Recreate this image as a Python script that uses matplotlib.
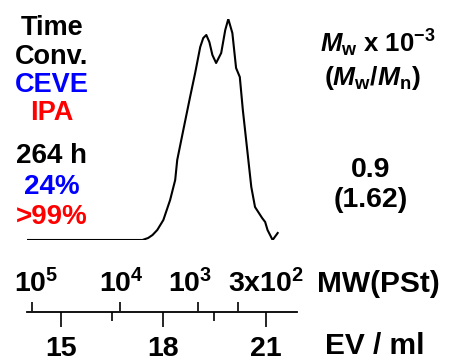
import matplotlib
matplotlib.use("Agg")
import matplotlib.pyplot as plt

plt.rcParams['font.family'] = ['Liberation Sans', 'DejaVu Sans']
plt.rcParams['font.weight'] = 'bold'
plt.rcParams['mathtext.fontset'] = 'custom'
plt.rcParams['mathtext.rm'] = 'Liberation Sans:bold'
plt.rcParams['mathtext.it'] = 'Liberation Sans:bold:italic'
plt.rcParams['mathtext.bf'] = 'Liberation Sans:bold'

# SEC trace (elution volume in ml, relative RI intensity)
ev = [14.0, 17.42, 17.59, 17.72, 17.86, 18.04, 18.24, 18.39, 18.45, 18.63, 18.83,
      18.98, 19.13, 19.22, 19.31, 19.40, 19.49, 19.60, 19.75, 19.87, 19.96, 20.08, 20.19,
      20.30, 20.39, 20.52, 20.64, 20.75, 20.96, 21.05, 21.12, 21.27, 21.42]
intensity = [0, 0, 2, 5, 10, 20, 40, 60, 80, 110, 143,
             167, 193, 202, 205, 198, 185, 177, 187, 210, 221, 207, 172,
             163, 130, 90, 53, 33, 22, 18, 10, 0, 7]

ev_ticks = [15, 18, 21]
ev_minor = [16.5, 19.5]
mw_pos = [14.16, 16.74, 19.01, 20.18]
mw_label_pos = [14.27, 16.78, 18.80, 21.01]
mw_labels = ['10$^{5}$', '10$^{4}$', '10$^{3}$', '3x10$^{2}$']

left_lines = [('Time', 'black'), ('Conv.', 'black'), ('CEVE', '#0000ff'), ('IPA', '#ff0000')]
left_values = [('264 h', 'black'), ('24%', '#0000ff'), ('>99%', '#ff0000')]
mw_value = '0.9'
pdi_value = '(1.62)'

W, H = 450, 361
fig = plt.figure(figsize=(4.5, 3.61), dpi=100)

x0, x1 = 26.7, 297.3
ax = fig.add_axes([x0 / W, 121 / H, (x1 - x0) / W, 221 / H])
ax.plot(ev, intensity, color='black', lw=1.5)
ax.set_xlim(14, 22)
ax.set_ylim(0, 221)
ax.axis('off')

# scale bar: EV below, MW(PSt) above
axs = fig.add_axes([x0 / W, (H - 311.5) / H, (x1 - x0) / W, 1e-6])
axs.set_xlim(14, 21.93)
for s in ['left', 'right', 'top']:
    axs.spines[s].set_visible(False)
axs.spines['bottom'].set_linewidth(1.3)
axs.set_yticks([])
axs.set_xticks(ev_ticks)
axs.set_xticklabels([str(t) for t in ev_ticks], fontsize=20.5, fontweight='bold')
axs.set_xticks(ev_minor, minor=True)
axs.tick_params(axis='x', which='major', direction='out', length=10.8, width=1.2, pad=7)
axs.tick_params(axis='x', which='minor', direction='out', length=6.8, width=1.2)

axt = axs.twiny()
axt.set_xlim(axs.get_xlim())
for s in axt.spines.values():
    s.set_visible(False)
axt.set_xticks(mw_pos)
axt.set_xticklabels([])
axt.tick_params(axis='x', direction='out', length=6.5, width=1.2)
# MW labels sit a bit off their ticks in the original, so place them separately
for p, lab in zip(mw_label_pos, mw_labels):
    axt.annotate(lab, xy=(p, 0), xycoords=axt.get_xaxis_transform(),
                 xytext=(0, 14), textcoords='offset points',
                 fontsize=20.5, ha='center', va='baseline')

fig.text(317 / W, 1 - 292 / H, 'MW(PSt)', fontsize=21.5, fontweight='bold', va='baseline')
fig.text(325 / W, 1 - 354 / H, 'EV / ml', fontsize=21.5, fontweight='bold', va='baseline')

for i, (txt, c) in enumerate(left_lines):
    fig.text(52 / W, 1 - (35 + 28.5 * i) / H, txt, color=c, fontsize=19.5,
             ha='center', va='baseline', fontweight='bold')
for i, (txt, c) in enumerate(left_values):
    fig.text(52 / W, 1 - (163 + 30.5 * i) / H, txt, color=c, fontsize=20,
             ha='center', va='baseline', fontweight='bold')

fig.text(378 / W, 1 - 52 / H, r'$\mathit{M}_{\mathrm{w}}$ x 10$^{-3}$', fontsize=18.5,
         ha='center', va='baseline')
fig.text(372 / W, 1 - 85 / H, r'($\mathit{M}_{\mathrm{w}}$/$\mathit{M}_{\mathrm{n}}$)', fontsize=19,
         ha='center', va='baseline')
fig.text(371 / W, 1 - 177 / H, mw_value, fontsize=20.5, ha='center', va='baseline')
fig.text(371 / W, 1 - 207 / H, pdi_value, fontsize=20.5, ha='center', va='baseline')

fig.savefig('out.png', dpi=100)
